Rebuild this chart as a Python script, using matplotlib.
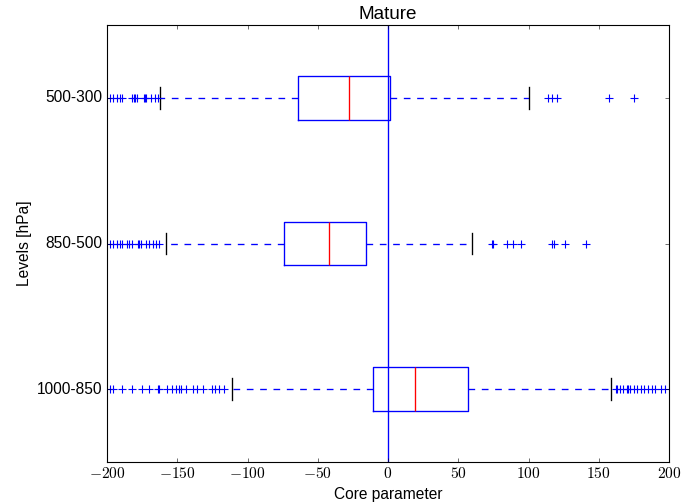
import matplotlib
matplotlib.use("Agg")
import matplotlib.pyplot as plt
from matplotlib.ticker import FuncFormatter

plt.style.use("classic")
plt.rcParams["font.family"] = ["Liberation Sans", "DejaVu Sans"]
plt.rcParams["font.size"] = 14
plt.rcParams["mathtext.fontset"] = "cm"
plt.rcParams["lines.linewidth"] = 1.2

# Levels, bottom to top
levels = ["1000-850", "850-500", "500-300"]

# Box statistics per level
medians = [19, -42, -28]
q1 = [-11, -74, -64]
q3 = [57, -16, 1.5]
whisk_lo = [-111, -158, -162]
whisk_hi = [159, 60, 100]

# Outliers per level
fliers_1000_850 = [-198, -196, -189, -182, -175, -170, -164, -163, -157, -154,
                   -151, -149, -147, -144, -139, -136, -132, -125, -123, -120,
                   -117, 162, 163, 165, 167, 170, 171, 172, 175, 177, 180, 182,
                   185, 188, 190, 194, 197]
fliers_850_500 = [-198, -196, -193, -191, -189, -186, -184, -182, -178, -177,
                  -176, -172, -170, -167, -165, -163, 74, 75, 85, 89, 95, 117,
                  118, 126, 141]
fliers_500_300 = [-198, -196, -193, -191, -189, -182, -181, -180, -179, -174,
                  -173, -172, -169, -166, -164, 114, 117, 120, 157, 175]
fliers = [fliers_1000_850, fliers_850_500, fliers_500_300]

stats = []
for i, name in enumerate(levels):
    stats.append({
        "label": name,
        "med": medians[i],
        "q1": q1[i],
        "q3": q3[i],
        "whislo": whisk_lo[i],
        "whishi": whisk_hi[i],
        "fliers": fliers[i],
    })

fig = plt.figure(figsize=(699 / 80, 503 / 80), dpi=80, facecolor="white")
ax = fig.add_axes([0.1531, 0.0815, 0.804, 0.8688])

ax.bxp(stats, positions=[1, 2, 3], widths=0.3, vert=False,
       boxprops=dict(color="b", linewidth=1.2),
       whiskerprops=dict(color="b", linestyle="--", linewidth=1.2),
       capprops=dict(color="k", linewidth=1.2),
       medianprops=dict(color="r", linewidth=1.2),
       flierprops=dict(marker="+", markeredgecolor="b", markerfacecolor="none",
                       linestyle="none", markersize=7))

ax.axvline(0, color="b", linewidth=1.2)
ax.set_xlim(-200, 200)
ax.set_ylim(0.5, 3.5)
ax.set_yticks([1, 2, 3])
ax.set_yticklabels(levels)
ax.xaxis.set_major_formatter(FuncFormatter(lambda v, p: r"$%g$" % v))
ax.set_title("Mature", fontsize=17)
ax.set_xlabel("Core parameter")
ax.set_ylabel("Levels [hPa]")

fig.savefig("out.png", dpi=80, facecolor="white")
